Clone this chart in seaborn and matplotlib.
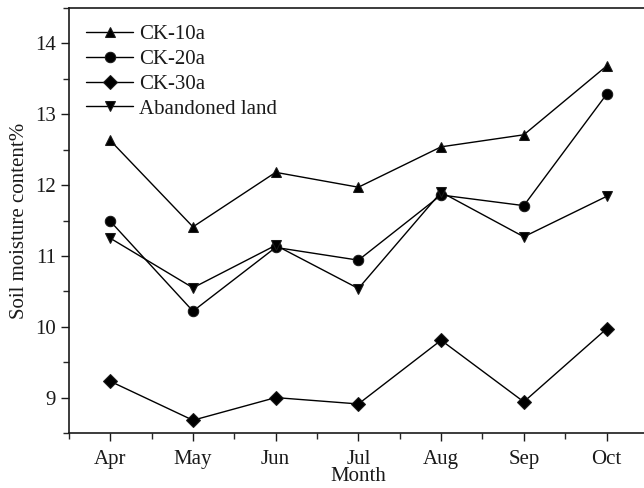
import pandas as pd
import matplotlib
matplotlib.use("Agg")
import matplotlib.pyplot as plt
import seaborn as sns
from matplotlib.ticker import MultipleLocator

months = ['Apr', 'May', 'Jun', 'Jul', 'Aug', 'Sep', 'Oct']
ck10 = [12.63, 11.41, 12.18, 11.97, 12.54, 12.71, 13.68]
ck20 = [11.49, 10.22, 11.12, 10.94, 11.86, 11.71, 13.28]
ck30 = [9.23, 8.68, 9.00, 8.91, 9.81, 8.94, 9.97]
abandoned = [11.25, 10.55, 11.15, 10.54, 11.90, 11.27, 11.84]
series_names = ['CK-10a', 'CK-20a', 'CK-30a', 'Abandoned land']


def main():
    sns.set_theme(style="ticks")
    plt.rcParams['font.family'] = ['Liberation Serif', 'DejaVu Serif']

    rows = []
    for name, vals in zip(series_names, [ck10, ck20, ck30, abandoned]):
        for i, v in enumerate(vals):
            rows.append({'idx': i, 'value': v, 'series': name})
    df = pd.DataFrame(rows)

    fig = plt.figure(figsize=(6.44, 4.88), dpi=100)
    ax = fig.add_axes([0.107, 0.1127, 0.899, 0.8709])

    sns.lineplot(data=df, x='idx', y='value', style='series', markers=['^', 'o', 'D', 'v'],
                 dashes=False, color='black', linewidth=1, markersize=7.5,
                 markeredgecolor='#1a1a1a', ax=ax)

    ax.set_xlim(-0.5, 6.5)
    ax.set_ylim(8.5, 14.5)
    ax.set_xticks(range(len(months)))
    ax.set_xticklabels(months)
    ax.xaxis.set_minor_locator(MultipleLocator(0.5))
    ax.yaxis.set_major_locator(MultipleLocator(1))
    ax.yaxis.set_minor_locator(MultipleLocator(0.5))
    ax.tick_params(which='major', direction='out', length=6, width=1, labelsize=15, colors='#1a1a1a')
    ax.tick_params(axis='x', which='major', pad=6)
    ax.tick_params(which='minor', direction='out', length=4, width=1)
    for s in ax.spines.values():
        s.set_linewidth(1.2)
        s.set_color('#1a1a1a')

    ax.set_xlabel('Month', fontsize=15, labelpad=-1, color='#1a1a1a')
    ax.set_ylabel('Soil moisture content%', fontsize=15, labelpad=4, color='#1a1a1a')

    leg = ax.legend(loc='upper left', frameon=False, fontsize=15, handlelength=2.3,
                    handletextpad=0.25, labelspacing=0.25, borderaxespad=0.4,
                    bbox_to_anchor=(0.0, 1.0))
    for t in leg.get_texts():
        t.set_color('#1a1a1a')

    fig.savefig('out.png', dpi=100)


if __name__ == "__main__":
    main()
